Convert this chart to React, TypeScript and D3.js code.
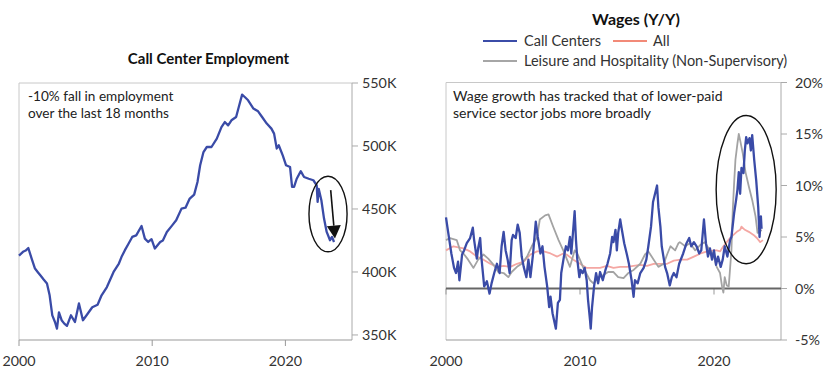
import React from "react";
import * as d3 from "d3";

// ---------- DATA ----------
const empYears = [2000.0,2000.3,2000.5,2000.7,2000.95,2001.2,2001.4,2001.6,2001.85,2002.1,2002.3,2002.5,2002.7,2002.85,2003.0,2003.2,2003.4,2003.6,2003.9,2004.2,2004.5,2004.8,2005.1,2005.5,2005.9,2006.2,2006.6,2007.1,2007.5,2007.7,2007.95,2008.2,2008.5,2008.8,2009.2,2009.45,2009.7,2009.95,2010.2,2010.6,2010.8,2011.1,2011.5,2011.8,2012.2,2012.5,2012.8,2013.15,2013.4,2013.6,2013.85,2014.1,2014.45,2014.85,2015.2,2015.45,2015.7,2015.95,2016.3,2016.5,2016.75,2016.95,2017.2,2017.6,2017.95,2018.25,2018.6,2018.95,2019.15,2019.35,2019.5,2019.8,2020.05,2020.35,2020.5,2020.65,2020.85,2021.15,2021.4,2021.75,2022.1,2022.35,2022.42,2022.5,2022.7,2022.9,2023.1,2023.35,2023.5,2023.65];
const empValues = [413,416,417,419,410.6,402.7,400,397.4,394,390.8,381.5,365.6,360.3,355,368,361.7,359,357.2,365.6,360.3,375,361.7,366,372,374,381.5,388,400,406.7,412,417.3,422,427.8,429,436.5,426.5,423.8,426,418.6,423.8,425,431.8,437,441,450.3,451,458,461.4,471.4,484.7,495.2,499.2,499.2,505.8,515,519,516.4,520.4,523,531,540.8,538.9,536.3,529.7,527.5,523,517.8,513.8,509.8,498,500.6,492.6,484.7,483.3,467.5,467.5,474,480,475.4,474,472.8,468.8,455.6,466,456.9,442.4,431.8,425.2,427.8,423.8];

const ccYears = [2000.0,2000.1,2000.25,2000.4,2000.6,2000.75,2000.9,2001.0,2001.2,2001.35,2001.55,2001.8,2002.0,2002.1,2002.3,2002.4,2002.55,2002.65,2002.85,2003.05,2003.25,2003.4,2003.6,2003.8,2004.0,2004.15,2004.3,2004.45,2004.6,2004.75,2004.9,2005.0,2005.2,2005.35,2005.5,2005.65,2005.8,2006.0,2006.15,2006.3,2006.5,2006.7,2006.85,2007.05,2007.2,2007.35,2007.55,2007.7,2007.8,2007.95,2008.2,2008.35,2008.5,2008.6,2008.8,2008.95,2009.1,2009.25,2009.35,2009.45,2009.6,2009.7,2009.8,2009.95,2010.05,2010.2,2010.35,2010.5,2010.6,2010.75,2010.8,2010.9,2011.05,2011.2,2011.35,2011.5,2011.7,2011.9,2012.05,2012.25,2012.4,2012.5,2012.65,2012.75,2012.85,2013.0,2013.1,2013.3,2013.5,2013.65,2013.85,2014.0,2014.1,2014.3,2014.5,2014.75,2014.95,2015.1,2015.3,2015.45,2015.6,2015.75,2015.85,2016.0,2016.1,2016.35,2016.5,2016.7,2016.85,2017.0,2017.2,2017.4,2017.7,2017.95,2018.15,2018.3,2018.5,2018.7,2018.9,2019.05,2019.25,2019.4,2019.55,2019.7,2019.85,2020.0,2020.15,2020.3,2020.5,2020.65,2020.8,2021.0,2021.2,2021.3,2021.5,2021.65,2021.75,2021.85,2021.95,2022.05,2022.2,2022.3,2022.4,2022.5,2022.65,2022.75,2022.85,2023.0,2023.15,2023.3,2023.4,2023.5,2023.55];
const ccValues = [6.9,6.0,4.7,3.4,2.0,1.5,2.6,0.8,3.3,3.7,4.4,4.9,5.9,4.7,2.9,3.9,4.9,2.9,0.2,0.7,-0.5,0.5,1.5,2.4,1.5,4.1,5.5,3.7,2.8,1.5,4.7,5.2,4.9,6.2,5.4,3.1,2.1,1.1,2.8,1.1,3.4,6.5,5.0,3.4,4.1,2.1,0.2,-1.8,-0.8,-2.4,-3.9,-1.4,-1.1,1.5,3.1,4.1,3.7,5.0,3.4,5.0,7.5,4.7,2.8,1.1,1.8,1.5,2.0,0.8,-1.1,-3.1,-3.9,-1.8,0.2,1.5,0.5,1.6,0.8,1.8,2.4,3.4,5.0,4.5,5.7,3.7,5.4,6.7,5.9,4.4,3.3,2.4,0.8,-0.8,0.8,0.5,1.5,2.0,2.8,4.1,6.0,8.4,9.2,10.0,7.9,6.0,4.1,2.1,1.5,0.3,1.1,1.5,1.1,2.4,3.4,4.4,4.9,4.1,4.5,4.1,3.4,3.7,6.7,4.4,3.1,3.9,2.8,3.7,2.3,3.1,2.1,2.8,4.1,3.1,4.7,5.0,7.3,8.6,9.6,11.3,9.2,11.7,11.2,13.4,14.7,14.1,14.6,13.4,14.9,12.5,10.5,7.9,5.0,7.0,5.8];

const allYears = [2000.0,2000.55,2001.3,2001.8,2002.3,2002.8,2003.3,2003.8,2004.3,2004.8,2005.3,2005.8,2006.3,2006.8,2007.3,2007.8,2008.3,2008.75,2009.0,2009.5,2010.0,2010.5,2011.0,2011.5,2012.0,2012.5,2013.0,2013.5,2014.0,2014.5,2015.0,2015.5,2016.0,2016.5,2017.0,2017.5,2018.0,2018.5,2019.0,2019.5,2020.0,2020.2,2020.45,2020.7,2020.95,2021.2,2021.45,2021.7,2021.95,2022.05,2022.3,2022.6,2022.95,2023.2,2023.45,2023.65];
const allValues = [3.7,4.1,3.9,3.6,3.1,2.8,2.4,2.1,2.2,2.1,2.4,2.6,3.3,3.6,3.6,3.4,3.1,3.4,3.3,2.8,2.4,2.0,2.0,2.0,2.2,2.0,2.1,2.1,2.2,2.3,2.2,2.4,2.4,2.4,2.7,2.8,2.8,3.1,3.4,3.6,3.7,3.7,3.6,4.1,4.5,4.9,5.2,5.5,5.7,6.0,5.7,5.5,5.2,4.9,4.5,4.7];

const lhYears = [2000.0,2000.3,2000.8,2001.05,2001.3,2001.65,2002.05,2002.4,2002.8,2003.15,2003.55,2003.9,2004.3,2004.65,2004.9,2005.3,2005.65,2006.05,2006.4,2006.8,2007.0,2007.4,2007.65,2008.0,2008.4,2008.75,2009.25,2009.6,2009.8,2010.25,2010.75,2011.0,2011.4,2011.75,2012.1,2012.5,2012.85,2013.25,2013.6,2014.0,2014.5,2014.85,2015.1,2015.5,2015.85,2016.25,2016.5,2016.75,2017.1,2017.35,2017.45,2017.85,2018.2,2018.6,2018.95,2019.3,2019.7,2019.95,2020.2,2020.45,2020.6,2020.7,2020.8,2020.95,2021.1,2021.3,2021.4,2021.5,2021.6,2021.75,2021.85,2021.95,2022.15,2022.35,2022.6,2022.85,2023.1,2023.25,2023.4,2023.55];
const lhValues = [4.7,4.9,4.7,3.7,3.4,2.8,2.0,2.8,3.3,2.9,2.3,1.6,1.5,1.1,1.6,2.1,2.4,3.1,4.1,5.0,6.7,7.1,7.2,6.0,4.7,3.7,2.1,3.7,3.4,2.0,0.8,0.5,1.1,1.3,1.6,1.6,1.1,1.0,1.5,1.8,2.4,3.3,3.6,2.8,2.1,2.4,3.3,4.1,3.7,4.4,4.5,4.1,4.4,3.7,4.2,4.5,3.7,3.3,2.1,1.5,0.2,-0.4,1.1,0.3,0.2,3.7,7.6,10.2,12.5,14.1,15.0,14.4,13.1,11.3,9.9,8.6,7.0,5.4,5.5,5.7];

const empTicks = [350, 400, 450, 500, 550];
const wageTicks = [-5, 0, 5, 10, 15, 20];
const yearTicks = [2000, 2010, 2020];

const leftTitle = "Call Center Employment";
const rightTitle = "Wages (Y/Y)";
const leftNote = ["-10% fall in employment", "over the last 18 months"];
const rightNote = ["Wage growth has tracked that of lower-paid", "service sector jobs more broadly"];
const legendItems = [
  { label: "Call Centers", color: "#3b4ca8" },
  { label: "All", color: "#f28a78" },
  { label: "Leisure and Hospitality (Non-Supervisory)", color: "#a6a6a6" },
];

// ---------- STYLE ----------
const FONT = "Lato, 'Open Sans', sans-serif";
const BLUE = "#3a4ba7";
const PINK = "#f4a7a3";
const GRAY = "#a3a3a3";
const TXT = "#333";
const FS = 14.3;

export default function App() {
  const xL = d3.scaleLinear().domain([2000, 2025]).range([19, 352]);
  const yL = d3.scaleLinear().domain([346, 550]).range([340, 83]);
  const xR = d3.scaleLinear().domain([2000, 2025]).range([446, 781]);
  const yR = d3.scaleLinear().domain([-5, 20]).range([340, 82.5]);

  const lineL = d3.line<number>().x((_, i) => xL(empYears[i])).y((v) => yL(v));
  const mk = (years: number[]) =>
    d3.line<number>().x((_, i) => xR(years[i])).y((v) => yR(v));

  const empPath = lineL(empValues) || "";
  const ccPath = mk(ccYears)(ccValues) || "";
  const allPath = mk(allYears)(allValues) || "";
  const lhPath = mk(lhYears)(lhValues) || "";

  const eL = { cx: xL(2023.2), cy: yL(446), rx: xL(2023.2 + 1.43) - xL(2023.2), ry: yL(446) - yL(476) };
  const aFrom = [xL(2023.4), yL(465)];
  const aTo = [xL(2023.72), yL(426.5)];
  const eR = { cx: xR(2022.4), cy: yR(9.6), rx: xR(2022.4 + 2.24) - xR(2022.4), ry: yR(9.6) - yR(16.8) };

  const ang = Math.atan2(aTo[1] - aFrom[1], aTo[0] - aFrom[0]);
  const headLen = 13, headW = 7;
  const bx = aTo[0] - headLen * Math.cos(ang), by = aTo[1] - headLen * Math.sin(ang);
  const px = -Math.sin(ang) * headW, py = Math.cos(ang) * headW;
  const head = `M${aTo[0]},${aTo[1]}L${bx + px},${by + py}L${bx - px},${by - py}Z`;

  return (
    <svg width={840} height={379} style={{ position: "absolute", left: 0, top: 0, background: "#fff" }} fontFamily={FONT}>
      {/* ===== LEFT CHART ===== */}
      <text x={208.5} y={64} textAnchor="middle" fontWeight={700} fontSize={15} fill="#111">{leftTitle}</text>
      <line x1={xL.range()[0]} x2={xL.range()[1]} y1={yL.range()[1]} y2={yL.range()[1]} stroke="#c8c8c8" />
      <line x1={xL.range()[0]} x2={xL.range()[0]} y1={yL.range()[1]} y2={yL.range()[0]} stroke="#c8c8c8" />
      <line x1={xL.range()[1]} x2={xL.range()[1]} y1={yL.range()[1]} y2={yL.range()[0]} stroke="#aaa" />
      <line x1={xL.range()[0]} x2={xL.range()[1]} y1={yL.range()[0]} y2={yL.range()[0]} stroke="#999" />
      {empTicks.map((t) => (
        <g key={t}>
          <line x1={xL.range()[1]} x2={xL.range()[1] + 6} y1={yL(t)} y2={yL(t)} stroke="#aaa" />
          <text x={xL.range()[1] + 10} y={yL(t) + 5} fontSize={FS} fill={TXT}>{t}K</text>
        </g>
      ))}
      {yearTicks.map((t) => (
        <g key={t}>
          <line x1={xL(t)} x2={xL(t)} y1={yL.range()[0]} y2={yL.range()[0] + 6} stroke="#999" />
          <text x={xL(t)} y={366} textAnchor="middle" fontSize={FS} fill={TXT}>{t}</text>
        </g>
      ))}
      {leftNote.map((s, i) => (
        <text key={i} x={28} y={101 + i * 16.5} fontSize={13.6} fill="#222">{s}</text>
      ))}
      <path d={empPath} fill="none" stroke={BLUE} strokeWidth={2.3} strokeLinejoin="round" />
      <ellipse cx={eL.cx} cy={eL.cy} rx={eL.rx} ry={eL.ry} fill="none" stroke="#111" strokeWidth={1.4} />
      <line x1={aFrom[0]} y1={aFrom[1]} x2={bx} y2={by} stroke="#111" strokeWidth={1.6} />
      <path d={head} fill="#111" />

      {/* ===== RIGHT CHART ===== */}
      <text x={636} y={25} textAnchor="middle" fontWeight={700} fontSize={16} fill="#111">{rightTitle}</text>
      <g fontSize={14.5} fill={TXT}>
        <line x1={483} x2={517} y1={41} y2={41} stroke={legendItems[0].color} strokeWidth={1.8} />
        <text x={524} y={46}>{legendItems[0].label}</text>
        <line x1={613} x2={647} y1={41} y2={41} stroke={legendItems[1].color} strokeWidth={1.8} />
        <text x={653} y={46}>{legendItems[1].label}</text>
        <line x1={483} x2={517} y1={61} y2={61} stroke={legendItems[2].color} strokeWidth={1.8} />
        <text x={524} y={66}>{legendItems[2].label}</text>
      </g>
      <line x1={xR.range()[0]} x2={xR.range()[1]} y1={yR.range()[1]} y2={yR.range()[1]} stroke="#c8c8c8" />
      <line x1={xR.range()[0]} x2={xR.range()[0]} y1={yR.range()[1]} y2={yR.range()[0]} stroke="#c8c8c8" />
      <line x1={xR.range()[1]} x2={xR.range()[1]} y1={yR.range()[1]} y2={yR.range()[0]} stroke="#aaa" />
      <line x1={xR.range()[0]} x2={xR.range()[1]} y1={yR.range()[0]} y2={yR.range()[0]} stroke="#999" />
      {wageTicks.map((t) => (
        <g key={t}>
          <line x1={xR.range()[1]} x2={xR.range()[1] + 6} y1={yR(t)} y2={yR(t)} stroke="#aaa" />
          <text x={xR.range()[1] + 14} y={yR(t) + 5} fontSize={FS} fill={TXT}>{t}%</text>
        </g>
      ))}
      {yearTicks.map((t) => (
        <g key={t}>
          <line x1={xR(t)} x2={xR(t)} y1={yR(0)} y2={yR(0) + 6} stroke="#999" />
          <text x={xR(t)} y={366} textAnchor="middle" fontSize={FS} fill={TXT}>{t}</text>
        </g>
      ))}
      {rightNote.map((s, i) => (
        <text key={i} x={453} y={101 + i * 16.5} fontSize={14} fill="#222">{s}</text>
      ))}
      <line x1={xR.range()[0]} x2={xR.range()[1]} y1={yR(0)} y2={yR(0)} stroke="#666" strokeWidth={2} />
      <path d={allPath} fill="none" stroke={PINK} strokeWidth={1.8} strokeLinejoin="round" />
      <path d={lhPath} fill="none" stroke={GRAY} strokeWidth={1.8} strokeLinejoin="round" />
      <path d={ccPath} fill="none" stroke={BLUE} strokeWidth={2.3} strokeLinejoin="round" />
      <ellipse cx={eR.cx} cy={eR.cy} rx={eR.rx} ry={eR.ry} fill="none" stroke="#111" strokeWidth={1.4} />
    </svg>
  );
}
